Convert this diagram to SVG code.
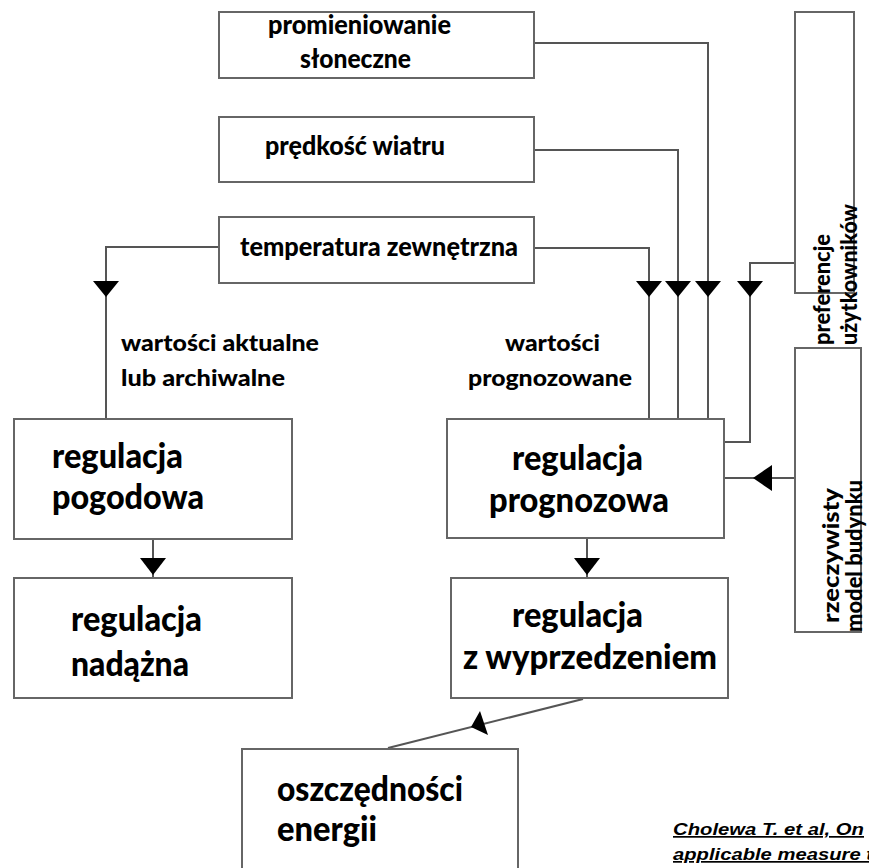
<svg xmlns="http://www.w3.org/2000/svg" width="869" height="868" viewBox="0 0 869 868">
<style>
.box{fill:#fff;stroke:#666;stroke-width:2}
.wire{fill:none;stroke:#555;stroke-width:2}
.arr{fill:#000;stroke:none}
.t{font-family:Lato,"Open Sans","Liberation Sans",sans-serif;font-weight:900;fill:#000}
.big{font-size:34px}
.sm{font-size:26px}
.lab{font-size:23px}
.cite{font-family:"Liberation Sans",Arial,sans-serif;font-weight:bold;font-style:italic;font-size:17px;text-decoration:underline;fill:#000}
</style>
<rect width="869" height="868" fill="#fff"/>
<g id="connectors">
<polyline class="wire" points="534,43 708,43 708,419"/>
<polyline class="wire" points="534,150 678,150 678,419"/>
<polyline class="wire" points="534,248 649,248 649,419"/>
<polyline class="wire" points="219,247 106,247 106,419"/>
<polyline class="wire" points="795,263 750,263 750,442 724,442"/>
<line class="wire" x1="795" y1="478" x2="724" y2="478"/>
<line class="wire" x1="153" y1="539" x2="153" y2="578"/>
<line class="wire" x1="587" y1="538" x2="587" y2="578"/>
<line class="wire" x1="583" y1="699" x2="388" y2="748"/>
<polygon class="arr" points="93,281 119,281 106,297"/>
<polygon class="arr" points="636,281 662,281 649,297"/>
<polygon class="arr" points="665,281 691,281 678,297"/>
<polygon class="arr" points="695,281 721,281 708,297"/>
<polygon class="arr" points="737,281 763,281 750,297"/>
<polygon class="arr" points="772,465 772,491 753,478"/>
<polygon class="arr" points="140,558 166,558 153,575"/>
<polygon class="arr" points="574,558 600,558 587,575"/>
<polygon class="arr" points="471,727 480,711 488,735"/>
</g>
<g id="promieniowanie">
<rect class="box" x="219" y="12" width="315" height="66"/>
<text class="t sm" x="268" y="34" textLength="183" lengthAdjust="spacingAndGlyphs">promieniowanie</text>
<text class="t sm" x="300" y="68" textLength="111" lengthAdjust="spacingAndGlyphs">słoneczne</text>
</g>
<g id="predkosc">
<rect class="box" x="219" y="117" width="315" height="65"/>
<text class="t sm" x="265" y="155" textLength="180" lengthAdjust="spacingAndGlyphs">prędkość wiatru</text>
</g>
<g id="temperatura">
<rect class="box" x="219" y="217" width="315" height="66"/>
<text class="t sm" x="240" y="256" textLength="278" lengthAdjust="spacingAndGlyphs">temperatura zewnętrzna</text>
</g>
<g id="preferencje">
<rect class="box" x="795" y="12" width="59" height="281"/>
<text class="t lab" transform="translate(830,345) rotate(-90)" textLength="111" lengthAdjust="spacingAndGlyphs">preferencje</text>
<text class="t lab" transform="translate(857,345) rotate(-90)" textLength="141" lengthAdjust="spacingAndGlyphs">użytkowników</text>
</g>
<g id="rzeczywisty">
<rect class="box" x="795" y="348" width="66" height="284"/>
<text class="t lab" transform="translate(839,623) rotate(-90)" textLength="135" lengthAdjust="spacingAndGlyphs">rzeczywisty</text>
<text class="t lab" transform="translate(862,632) rotate(-90)" textLength="152" lengthAdjust="spacingAndGlyphs">model budynku</text>
</g>
<g id="label-aktualne">
<text class="t lab" x="121" y="351" textLength="198" lengthAdjust="spacingAndGlyphs">wartości aktualne</text>
<text class="t lab" x="121" y="386" textLength="164" lengthAdjust="spacingAndGlyphs">lub archiwalne</text>
</g>
<g id="label-prognozowane">
<text class="t lab" x="505" y="351" textLength="95" lengthAdjust="spacingAndGlyphs">wartości</text>
<text class="t lab" x="468" y="386" textLength="164" lengthAdjust="spacingAndGlyphs">prognozowane</text>
</g>
<g id="pogodowa">
<rect class="box" x="14" y="419" width="278" height="120"/>
<text class="t big" x="52" y="468" textLength="131" lengthAdjust="spacingAndGlyphs">regulacja</text>
<text class="t big" x="52" y="509" textLength="152" lengthAdjust="spacingAndGlyphs">pogodowa</text>
</g>
<g id="nadazna">
<rect class="box" x="14" y="578" width="278" height="120"/>
<text class="t big" x="71" y="631" textLength="131" lengthAdjust="spacingAndGlyphs">regulacja</text>
<text class="t big" x="71" y="676" textLength="118" lengthAdjust="spacingAndGlyphs">nadążna</text>
</g>
<g id="prognozowa">
<rect class="box" x="447" y="419" width="277" height="119"/>
<text class="t big" x="512" y="470" textLength="131" lengthAdjust="spacingAndGlyphs">regulacja</text>
<text class="t big" x="489" y="512" textLength="180" lengthAdjust="spacingAndGlyphs">prognozowa</text>
</g>
<g id="wyprzedzeniem">
<rect class="box" x="451" y="578" width="277" height="120"/>
<text class="t big" x="512" y="627" textLength="131" lengthAdjust="spacingAndGlyphs">regulacja</text>
<text class="t big" x="463" y="669" textLength="254" lengthAdjust="spacingAndGlyphs">z wyprzedzeniem</text>
</g>
<g id="oszczednosci">
<rect class="box" x="242" y="749" width="276" height="130"/>
<text class="t big" x="277" y="801" textLength="186" lengthAdjust="spacingAndGlyphs">oszczędności</text>
<text class="t big" x="277" y="841" textLength="100" lengthAdjust="spacingAndGlyphs">energii</text>
</g>
<g id="citation">
<text class="cite" x="673" y="835" textLength="191" lengthAdjust="spacingAndGlyphs">Cholewa T. et al, On</text>
<text class="cite" x="673" y="860" textLength="200" lengthAdjust="spacingAndGlyphs">applicable measure t</text>
</g>
</svg>
